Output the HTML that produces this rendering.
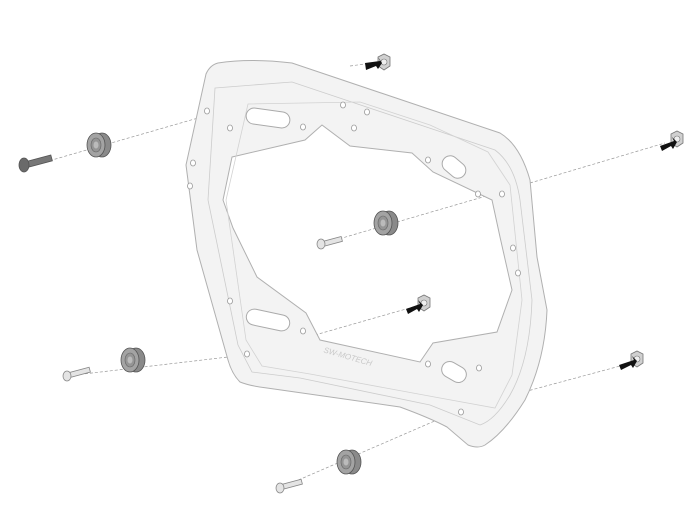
<!DOCTYPE html>
<html><head><meta charset="utf-8"><style>html,body{margin:0;padding:0;background:#fff}svg{display:block}</style></head>
<body>
<svg width="700" height="525" viewBox="0 0 700 525" xmlns="http://www.w3.org/2000/svg">
<defs>
<g id="spacer">
  <ellipse cx="6" cy="0" rx="9" ry="12" fill="#8a8a8a" stroke="#555" stroke-width="0.8"/>
  <ellipse cx="0" cy="0" rx="9" ry="12" fill="#a3a3a3" stroke="#555" stroke-width="0.8"/>
  <ellipse cx="0" cy="0" rx="5" ry="7" fill="#959595" stroke="#666" stroke-width="0.6"/>
  <ellipse cx="0" cy="0" rx="2.5" ry="3.5" fill="#bbb"/>
</g>
<g id="nut">
  <polygon points="-6,-5 0,-8 6,-5 6,4 0,8 -6,4" fill="#d0d0d0" stroke="#777" stroke-width="0.8"/>
  <circle cx="0" cy="0" r="3" fill="#eee" stroke="#777" stroke-width="0.6"/>
</g>
</defs>
<g stroke="#999" stroke-width="0.7" stroke-dasharray="3,2" fill="none">
  <line x1="45" y1="162" x2="205" y2="116"/>
  <line x1="325" y1="243" x2="500" y2="192"/>
  <line x1="530" y1="183" x2="665" y2="143"/>
  <line x1="350" y1="66" x2="380" y2="62"/>
  <line x1="75" y1="375" x2="245" y2="355"/>
  <line x1="280" y1="488" x2="460" y2="410"/>
  <line x1="315" y1="335" x2="420" y2="305"/>
  <line x1="520" y1="393" x2="635" y2="362"/>
</g>
<path d="M218,63 Q250,58 292,63 L500,133 Q520,145 530,180 L537,257 L547,310 Q545,360 525,400 Q505,432 485,445 Q478,449 468,445 L447,427 Q430,418 400,407 L267,388 Q250,386 240,382 Q232,374 228,360 L197,250 L186,165 L206,74 Q210,65 218,63 Z
M232,157 L305,140 L322,125 L350,146 L412,153 L433,172 L492,200 L500,237 L512,290 L497,332 L433,343 L420,362 L320,340 L306,313 L257,277 L233,228 L223,200 Z" fill="#f3f3f3" fill-rule="evenodd" stroke="#b0b0b0" stroke-width="1"/>
<path d="M215,88 L292,82 L495,150 Q515,165 520,200 L532,300 Q530,360 510,395 Q495,420 480,425 L430,405 L300,378 L252,372 L238,345 L208,200 Z" fill="none" stroke="#ccc" stroke-width="0.8"/>
<path d="M248,104 L360,102 L430,125 L488,152 L510,185 L522,300 L512,375 L495,408 L440,398 L310,374 L262,366 L246,340 L226,200 Z" fill="none" stroke="#d2d2d2" stroke-width="0.8"/>
<g fill="#fff" stroke="#aaa" stroke-width="1">
  <rect x="246" y="110" width="44" height="16" rx="8" transform="rotate(8 268 118)"/>
  <rect x="441" y="159" width="26" height="16" rx="8" transform="rotate(40 454 167)"/>
  <rect x="246" y="312" width="44" height="16" rx="8" transform="rotate(12 268 320)"/>
  <rect x="441" y="364" width="26" height="16" rx="8" transform="rotate(30 454 372)"/>
</g>
<text x="322" y="360" font-family="Liberation Sans, sans-serif" font-size="8" fill="#c8c8c8" transform="rotate(16 350 360)" font-style="italic">SW-MOTECH</text>
<g fill="#fff" stroke="#999" stroke-width="0.8">
  <ellipse cx="207" cy="111" rx="2.5" ry="3"/><ellipse cx="230" cy="128" rx="2.5" ry="3"/>
  <ellipse cx="193" cy="163" rx="2.5" ry="3"/><ellipse cx="190" cy="186" rx="2.5" ry="3"/>
  <ellipse cx="343" cy="105" rx="2.5" ry="3"/><ellipse cx="367" cy="112" rx="2.5" ry="3"/>
  <ellipse cx="303" cy="127" rx="2.5" ry="3"/><ellipse cx="354" cy="128" rx="2.5" ry="3"/>
  <ellipse cx="428" cy="160" rx="2.5" ry="3"/><ellipse cx="478" cy="194" rx="2.5" ry="3"/>
  <ellipse cx="502" cy="194" rx="2.5" ry="3"/><ellipse cx="513" cy="248" rx="2.5" ry="3"/>
  <ellipse cx="518" cy="273" rx="2.5" ry="3"/><ellipse cx="230" cy="301" rx="2.5" ry="3"/>
  <ellipse cx="303" cy="331" rx="2.5" ry="3"/><ellipse cx="247" cy="354" rx="2.5" ry="3"/>
  <ellipse cx="428" cy="364" rx="2.5" ry="3"/><ellipse cx="479" cy="368" rx="2.5" ry="3"/>
  <ellipse cx="461" cy="412" rx="2.5" ry="3"/>
</g>
<g stroke="#555" stroke-width="0.8">
  <rect x="28" y="158" width="24" height="6" fill="#777" transform="rotate(-15 40 161)"/>
  <ellipse cx="24" cy="165" rx="5" ry="7" fill="#6a6a6a"/>
</g>
<g stroke="#888" stroke-width="0.8" fill="#e4e4e4">
  <rect x="322" y="239" width="20" height="5" transform="rotate(-15 332 241)"/>
  <ellipse cx="321" cy="244" rx="4" ry="5"/>
  <rect x="68" y="370" width="22" height="5" transform="rotate(-15 79 372)"/>
  <ellipse cx="67" cy="376" rx="4" ry="5"/>
  <rect x="280" y="482" width="22" height="5" transform="rotate(-15 291 484)"/>
  <ellipse cx="280" cy="488" rx="4" ry="5"/>
</g>
<use href="#spacer" x="96" y="145"/>
<use href="#spacer" x="383" y="223"/>
<use href="#spacer" x="130" y="360"/>
<use href="#spacer" x="346" y="462"/>
<use href="#nut" x="384" y="62"/>
<use href="#nut" x="677" y="139"/>
<use href="#nut" x="424" y="303"/>
<use href="#nut" x="637" y="359"/>
<g fill="#111">
  <polygon points="365,63 380,61 378,57 382,63 378,69 376,66 366,70"/>
  <polygon points="660,146 674,141 672,137 677,142 673,149 671,146 662,151"/>
  <polygon points="406,309 420,304 418,300 423,305 419,312 417,309 408,314"/>
  <polygon points="619,365 634,360 632,356 637,361 633,368 631,365 621,370"/>
</g>
</svg>
</body></html>
